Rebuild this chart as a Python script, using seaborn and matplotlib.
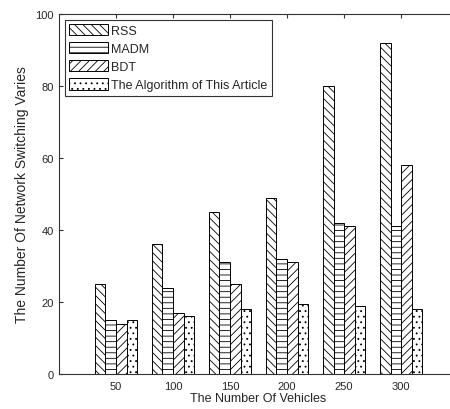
import numpy as np
import pandas as pd
import matplotlib
matplotlib.use("Agg")
import matplotlib.pyplot as plt
import seaborn as sns

vehicles = [50, 100, 150, 200, 250, 300]
methods = ["RSS", "MADM", "BDT", "The Algorithm of This Article"]
rss = [25, 36, 45, 49, 80, 92]
madm = [15, 24, 31, 32, 42, 41]
bdt = [14, 17, 25, 31, 41, 58]
ours = [15, 16, 18, 19.5, 19, 18]
hatches = ["\\\\\\\\", "---", "////", "..."]

sns.set_style("ticks")
plt.rcParams["font.family"] = ["Liberation Sans", "DejaVu Sans"]
plt.rcParams["hatch.linewidth"] = 0.6

df = pd.DataFrame({
    "vehicles": vehicles * 4,
    "value": rss + madm + bdt + ours,
    "method": np.repeat(methods, len(vehicles)),
})

fig = plt.figure(figsize=(4.5, 4.1), dpi=100)
ax = fig.add_axes([0.131, 0.0854, 0.887, 0.878])

sns.barplot(data=df, x="vehicles", y="value", hue="method", hue_order=methods,
            native_scale=True, width=0.74, palette=["white"] * 4,
            edgecolor="black", linewidth=0.7, legend=False, ax=ax)

for cont, h in zip(ax.containers, hatches):
    for p in cont:
        p.set_hatch(h)

ax.set_xlim(0, 350)
ax.set_ylim(0, 100)
ax.set_xticks(vehicles)
ax.set_yticks([0, 20, 40, 60, 80, 100])
ax.tick_params(direction="in", length=3, labelsize=8, top=True, right=False,
               color="#333333")
ax.tick_params(axis="x", pad=5)
ax.spines["right"].set_visible(False)
for s in ax.spines.values():
    s.set_color("#333333")
    s.set_linewidth(0.8)

ax.set_xlabel("The Number Of Vehicles", fontsize=9, labelpad=1)
ax.set_ylabel("The Number Of Network Switching Varies", fontsize=10, labelpad=5)

leg = ax.legend(ax.containers, methods, loc="upper left", fontsize=9,
                handlelength=3.1, handleheight=1.0, handletextpad=0.3,
                labelspacing=0.42, borderaxespad=0.45, borderpad=0.35,
                fancybox=False, framealpha=1, edgecolor="#333333")
leg.get_frame().set_linewidth(0.8)

fig.savefig("out.png", dpi=100)
